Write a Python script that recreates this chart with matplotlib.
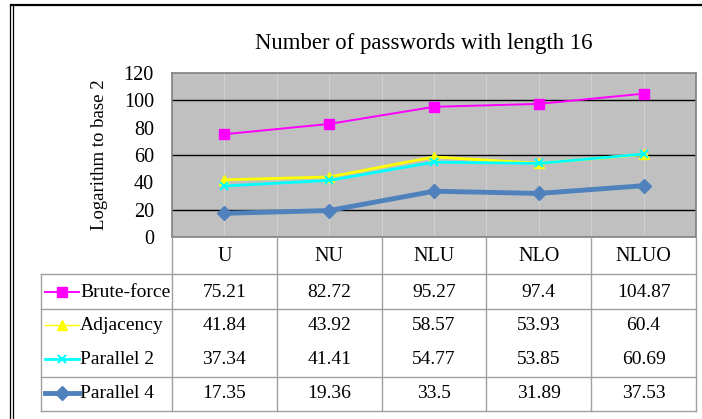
import numpy as np
import matplotlib
matplotlib.use("Agg")
from matplotlib import pyplot as plt
from matplotlib.lines import Line2D
from matplotlib import transforms

categories = ["U", "NU", "NLU", "NLO", "NLUO"]
brute_force = [75.21, 82.72, 95.27, 97.4, 104.87]
adjacency = [41.84, 43.92, 58.57, 53.93, 60.4]
parallel_2 = [37.34, 41.41, 54.77, 53.85, 60.69]
parallel_4 = [17.35, 19.36, 33.5, 31.89, 37.53]
series_names = ["Brute-force", "Adjacency", "Parallel 2", "Parallel 4"]
yticks = [0, 20, 40, 60, 80, 100, 120]

plt.rcParams['font.family'] = ['Liberation Serif', 'DejaVu Serif']

W, H = 702, 419
fig = plt.figure(figsize=(W / 100, H / 100), dpi=100)

def fx(px):
    return px / W

def fy(py):
    return 1 - py / H

def hline(x0, x1, y, **kw):
    fig.add_artist(Line2D([fx(x0), fx(x1)], [fy(y), fy(y)], transform=fig.transFigure, **kw))

def vline(x, y0, y1, **kw):
    fig.add_artist(Line2D([fx(x), fx(x)], [fy(y0), fy(y1)], transform=fig.transFigure, **kw))

# outer chart border (top + double left)
hline(11, 702, 5, color="black", lw=1.6)
vline(10, 5, 419, color="black", lw=0.9)
vline(12.7, 5, 419, color="black", lw=0.9)

# plot area
L, R, T, B = 172, 696, 73, 237
ax = fig.add_axes([fx(L), fy(B), fx(R) - fx(L), (B - T) / H])
ax.set_facecolor("#c0c0c0")
ax.set_xlim(-0.5, 4.5)
ax.set_ylim(0, 120)
ax.set_yticks(yticks)
ax.set_yticklabels([str(v) for v in yticks], fontsize=14.5)
ax.set_xticks([])
ax.tick_params(axis="y", length=0, pad=13)
for s in ax.spines.values():
    s.set_color("#808080")
    s.set_linewidth(1.2)

# faint vertical grid at category centres and borders
x = np.arange(len(categories))
for xv in np.concatenate([x, x[:-1] + 0.5]):
    ax.axvline(xv, color="#d0d0d0", lw=0.8, zorder=0.5)
for yv in [20, 60, 100]:
    ax.axhline(yv, color="black", lw=1.0, zorder=0.6)

styles = [
    dict(color="#ff00ff", lw=1.4, marker="s", ms=7),
    dict(color="#ffff00", lw=2.0, marker="^", ms=7),
    dict(color="#00ffff", lw=2.0, marker="x", ms=6, mew=1.5),
    dict(color="#4f81bd", lw=3.5, marker="D", ms=7),
]
all_series = [brute_force, adjacency, parallel_2, parallel_4]
for vals, st in zip(all_series, styles):
    ax.plot(x, vals, zorder=3, **st)

ax.set_ylabel("Logarithm to base 2", fontsize=13.5, labelpad=11)
fig.text(fx(424), fy(44), "Number of passwords with length 16", fontsize=16.4,
         ha="center", va="center")

# data table under the plot
trans = transforms.blended_transform_factory(ax.transData, fig.transFigure)
grid_c = "#a0a0a0"
col_edges = [L] + [ax.transData.transform((xv + 0.5, 0))[0] for xv in x]
hdr_top = B
row_lines = [274, 309, 377, 411]
row_centres = [292, 325, 359, 393]

for cx in col_edges:
    vline(cx, hdr_top, row_lines[-1], color=grid_c, lw=1.0)
vline(41, row_lines[0], row_lines[-1], color=grid_c, lw=1.0)
for ry in row_lines:
    hline(41, R, ry, color=grid_c, lw=1.0)

for xi, cat in zip(x, categories):
    fig.text(xi, fy(256), cat, transform=trans, fontsize=14.5, ha="center", va="center")

for name, vals, st, ry in zip(series_names, all_series, styles, row_centres):
    lw = 1.0 if st["color"] == "#ffff00" else st["lw"]
    fig.add_artist(Line2D([fx(45), fx(62), fx(79)], [fy(ry)] * 3, transform=fig.transFigure,
                          color=st["color"], lw=lw, marker=st["marker"],
                          ms=st["ms"], mew=st.get("mew", 1.0), markevery=[1]))
    fig.text(fx(80), fy(ry), name, fontsize=14, ha="left", va="center")
    for xi, v in zip(x, vals):
        fig.text(xi, fy(ry), f"{v:g}", transform=trans, fontsize=14, ha="center", va="center")

fig.savefig("out.png", dpi=100)
